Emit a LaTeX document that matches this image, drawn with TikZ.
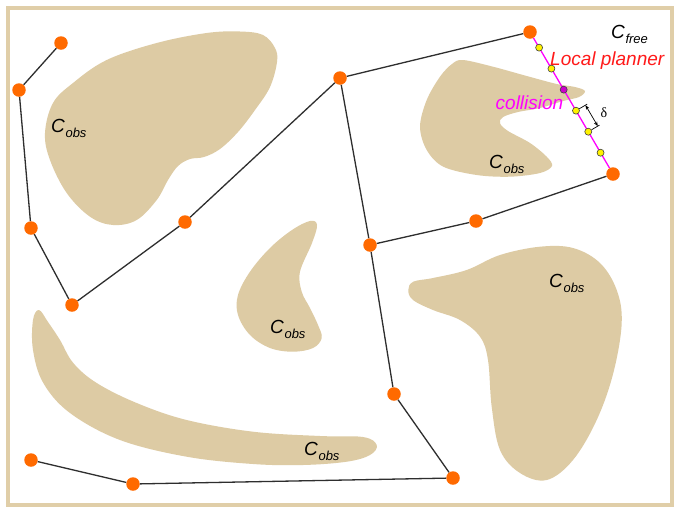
\documentclass[tikz,border=0pt]{standalone}
\usepackage{fontspec}
\setmainfont{Liberation Sans}
\newfontfamily\greekserif{Liberation Serif}
\usetikzlibrary{calc,arrows.meta}
\definecolor{obstan}{HTML}{DDCBA4}
\definecolor{framecol}{HTML}{E0CEA8}
\definecolor{vtxcol}{HTML}{FF6A00}
\definecolor{edgecol}{HTML}{2E2E2E}
\definecolor{lpred}{HTML}{FF1A1A}
\definecolor{magcol}{HTML}{FF00FF}
\definecolor{colldot}{HTML}{CC00CC}
\newcommand{\cspace}[1]{\textit{C}\kern0.5pt\raisebox{-5pt}{\fontsize{13}{13}\selectfont\textit{#1}}}
\begin{document}
\begin{tikzpicture}[x=1pt,y=-1pt,
  vtx/.style={circle,fill=vtxcol,draw=none,inner sep=0pt,minimum size=13.5pt},
  dotnode/.style={circle,fill=yellow,draw=black!75,line width=0.6pt,inner sep=0pt,minimum size=7pt},
  colnode/.style={circle,fill=colldot,draw=black!75,line width=0.6pt,inner sep=0pt,minimum size=7pt},
  roadmap/.style={draw=edgecol,line width=1.3pt},
  obstacle/.style={fill=obstan,draw=none},
  lbl/.style={anchor=base west,inner sep=0pt,font=\fontsize{19}{22}\selectfont}
]
\useasboundingbox (0,0) rectangle (674,507);
\fill[white] (0,0) rectangle (674,507);
\draw[framecol,line width=4pt] (8,7.5) rectangle (672,505);

% obstacles
\fill[obstacle] plot[smooth cycle,tension=0.6] coordinates {
 (206.7,33) (240,31.5) (263,35) (275,48) (277,62) (270,87) (255,110) (238,132)
 (220,149) (204,157) (190,159) (178,166) (168,180) (156.7,200) (136.7,220) (113,225)
 (90,216.7) (66.7,193) (50,160) (45,133) (53,103) (73,83) (106.7,60) (156.7,43)};
\fill[obstacle] plot[smooth cycle,tension=0.55] coordinates {
 (463,60) (493,66.7) (526.7,76) (556.7,84) (575,87) (585,91) (579,97) (563,101)
 (540,108) (518,112) (503,117) (500,123.3) (508,131) (530,143) (546.7,156.7) (552,166)
 (540,173) (510,176.7) (476.7,175) (443.3,166.7) (426.7,150) (420,126.7) (426.7,100)
 (440,76.7) (452,64)};
\fill[obstacle] plot[smooth cycle,tension=0.6] coordinates {
 (310,221) (317,225) (312,243) (300,271.7) (301.7,291.7) (310,308) (318,325)
 (321.7,338) (313,348) (293,351.7) (270,348) (250,335) (238,315) (238,295)
 (250,271.7) (270,248) (292,230)};
\fill[obstacle] plot[smooth cycle,tension=0.6] coordinates {
 (39,310) (48,322) (60,340) (73.3,363) (96.7,383) (136.7,403) (186.7,420) (253,431.7)
 (320,436) (363,437) (376.7,445) (370,455) (346.7,461.7) (303,465) (253,464)
 (186.7,456.7) (120,440) (70,413) (43.3,383) (33,350) (33,320)};
\fill[obstacle] plot[smooth cycle,tension=0.6] coordinates {
 (408.3,290) (413.3,281.7) (433,278) (466.7,270) (500,255) (540,246.7) (573,248)
 (600,263) (616.7,290) (621.7,323) (613.3,373) (596.7,420) (573,460) (546.7,480)
 (520,473) (500,450) (491.7,406.7) (488,360) (480,336.7) (460,320) (433,310) (413,300)};

% roadmap vertices
\node[vtx] (n1) at (61,43) {};
\node[vtx] (n2) at (19,90) {};
\node[vtx] (n3) at (31,228) {};
\node[vtx] (n4) at (72,305) {};
\node[vtx] (n5) at (185,222) {};
\node[vtx] (n6) at (340,78) {};
\node[vtx] (n7) at (530,32) {};
\node[vtx] (n8) at (613,174) {};
\node[vtx] (n9) at (476,221) {};
\node[vtx] (n10) at (370,245) {};
\node[vtx] (n11) at (394,394) {};
\node[vtx] (n12) at (453,478) {};
\node[vtx] (n13) at (133,484) {};
\node[vtx] (n14) at (31,460) {};

% roadmap edges
\draw[roadmap] (n1) -- (n2);
\draw[roadmap] (n2) -- (n3);
\draw[roadmap] (n3) -- (n4);
\draw[roadmap] (n4) -- (n5);
\draw[roadmap] (n5) -- (n6);
\draw[roadmap] (n6) -- (n7);
\draw[roadmap] (n8) -- (n9);
\draw[roadmap] (n9) -- (n10);
\draw[roadmap] (n10) -- (n6);
\draw[roadmap] (n10) -- (n11);
\draw[roadmap] (n11) -- (n12);
\draw[roadmap] (n12) -- (n13);
\draw[roadmap] (n13) -- (n14);

% local planner
\draw[magcol,line width=1.3pt] (n7) -- (n8);
\node[dotnode] (d1) at ($(n7)!0.11!(n8)$) {};
\node[dotnode] (d2) at ($(n7)!0.258!(n8)$) {};
\node[colnode] (d3) at ($(n7)!0.406!(n8)$) {};
\node[dotnode] (d4) at ($(n7)!0.554!(n8)$) {};
\node[dotnode] (d5) at ($(n7)!0.702!(n8)$) {};
\node[dotnode] (d6) at ($(n7)!0.85!(n8)$) {};

% delta dimension
\coordinate (t4) at ($(d4)!13pt!90:(d5)$);
\coordinate (t5) at ($(d5)!13pt!-90:(d4)$);
\draw[black,line width=0.7pt] (d4) -- (t4);
\draw[black,line width=0.7pt] (d5) -- (t5);
\draw[black,line width=0.7pt,{Stealth[length=4.5pt,width=3.5pt]}-{Stealth[length=4.5pt,width=3.5pt]}]
  ($(d4)!11pt!90:(d5)$) -- ($(d5)!11pt!-90:(d4)$);
\node[inner sep=0pt,font=\greekserif\fontsize{14}{14}\selectfont] (delta) at (604,113) {δ};

% labels
\node[lbl] (cfree) at (611,38) {\cspace{free}};
\node[lbl,text=lpred] (lp) at (550,65) {\textit{Local planner}};
\node[lbl,text=magcol] (coll) at (495.5,109) {\textit{collision}};
\node[lbl] (c1) at (51,132) {\cspace{obs}};
\node[lbl] (c2) at (489,168) {\cspace{obs}};
\node[lbl] (c3) at (270,333) {\cspace{obs}};
\node[lbl] (c4) at (304,455) {\cspace{obs}};
\node[lbl] (c5) at (549,287) {\cspace{obs}};
\end{tikzpicture}
\end{document}
